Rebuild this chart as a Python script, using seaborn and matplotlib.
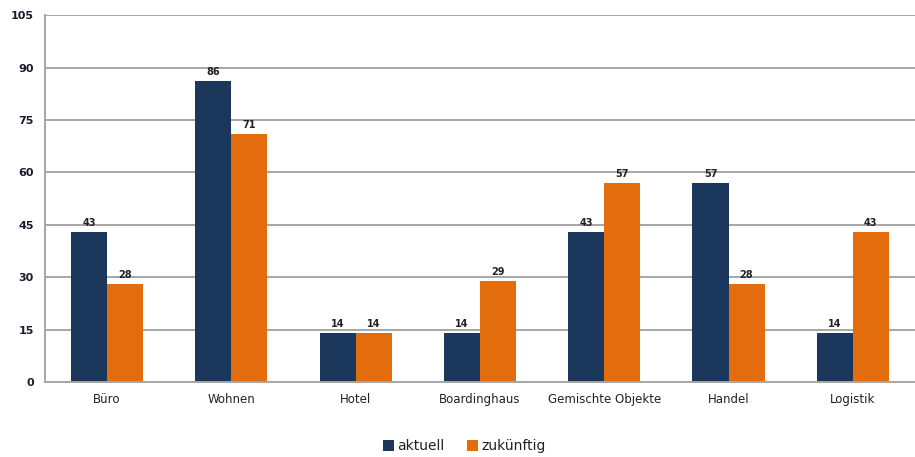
import matplotlib
matplotlib.use("Agg")
import matplotlib.pyplot as plt
import seaborn as sns
import pandas as pd
import numpy as np

categories = ["Büro", "Wohnen", "Hotel", "Boardinghaus", "Gemischte Objekte", "Handel", "Logistik"]
aktuell = [43, 86, 14, 14, 43, 57, 14]
zukuenftig = [28, 71, 14, 29, 57, 28, 43]
series_names = ["aktuell", "zukünftig"]
y_ticks = [0, 15, 30, 45, 60, 75, 90, 105]

df = pd.DataFrame({
    "Kategorie": categories * 2,
    "Wert": aktuell + zukuenftig,
    "Serie": [series_names[0]] * len(categories) + [series_names[1]] * len(categories),
})

sns.set_theme(style="white")
plt.rcParams["font.family"] = ["DejaVu Sans"]

fig = plt.figure(figsize=(9.15, 4.57), dpi=100)
ax = fig.add_axes([0.049, 0.164, 0.951, 0.803])

palette = {"aktuell": "#1B375C", "zukünftig": "#E36C0C"}
sns.barplot(data=df, x="Kategorie", y="Wert", hue="Serie", order=categories,
            hue_order=series_names, palette=palette, width=0.58, gap=0,
            saturation=1, ax=ax, legend=True, linewidth=0)

for cont in ax.containers:
    ax.bar_label(cont, fmt="%d", padding=3, fontsize=7, fontweight="bold", color="#222222")

ax.set_ylim(0, 105)
ax.set_yticks(y_ticks)
ax.set_xlim(-0.5, len(categories) - 0.5)
ax.yaxis.grid(True, color="#A6A6A6", linewidth=1.4)
ax.set_axisbelow(True)
for s in ["top", "right"]:
    ax.spines[s].set_visible(False)
for s in ["left", "bottom"]:
    ax.spines[s].set_color("#A6A6A6")
    ax.spines[s].set_linewidth(1.4)

ax.tick_params(axis="y", length=6, color="#A6A6A6", width=1.4, labelsize=8, pad=2, labelcolor="#1a1a2e")
for lbl in ax.get_yticklabels():
    lbl.set_fontweight("semibold")
ax.tick_params(axis="x", which="major", length=0, labelsize=8.5, pad=8, labelcolor="#222222")
ax.set_xticks(np.arange(-0.5, len(categories), 1.0), minor=True)
ax.tick_params(axis="x", which="minor", length=5, color="#A6A6A6", width=1.4)
ax.set_xlabel("")
ax.set_ylabel("")

leg = ax.legend(loc="lower center", bbox_to_anchor=(0.482, -0.228), ncol=2, frameon=False,
                fontsize=10, handlelength=0.8, handleheight=0.8, handletextpad=0.25,
                columnspacing=1.6)
for t in leg.get_texts():
    t.set_color("#222222")

fig.savefig("out.png", dpi=100)
